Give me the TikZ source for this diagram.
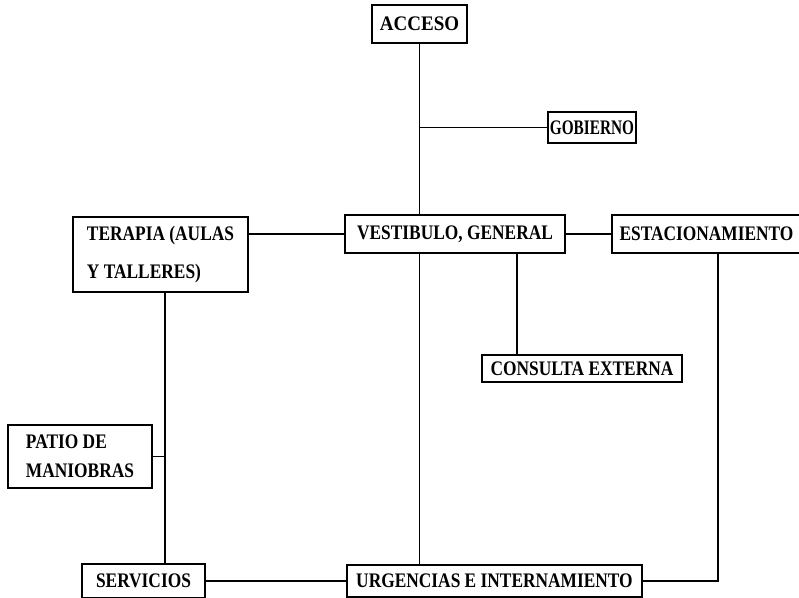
\documentclass[tikz,border=0pt]{standalone}
\usepackage{fontspec}
\setmainfont{Liberation Serif}[FakeStretch=0.84]
\newfontfamily\narrowserif{Liberation Serif}[FakeStretch=0.74]
\newfontfamily\wideserif{Liberation Serif}[FakeStretch=0.92]
\begin{document}
\begin{tikzpicture}[x=0.75pt,y=-0.75pt,
  box/.style={draw=black,line width=2pt,rectangle,inner sep=1.5pt,
    font=\fontsize{15.5}{18}\selectfont\bfseries,align=left},
  conn/.style={draw=black,line width=1pt}]
\useasboundingbox[fill=white] (0,0) rectangle (799,598);
\node[box,minimum width=71.25pt,minimum height=28.5pt] (acceso) at (419.5,24) {\wideserif\bfseries ACCESO};
\node[box,minimum width=66pt,minimum height=23.25pt] (gobierno) at (592,127.5) {\narrowserif\bfseries GOBIERNO};
\node[box,minimum width=131.25pt,minimum height=56.25pt] (terapia) at (160.5,254.5) {TERAPIA (AULAS\\[11pt]Y TALLERES)};
\node[box,minimum width=165pt,minimum height=28.5pt] (vestibulo) at (455,234) {VESTIBULO, GENERAL};
\node[box,minimum width=141.75pt,minimum height=28.5pt] (estac) at (706.5,234) {ESTACIONAMIENTO};
\node[box,minimum width=150pt,minimum height=20.25pt] (consulta) at (582,368.5) {CONSULTA EXTERNA};
\node[box,minimum width=108pt,minimum height=47.25pt] (patio) at (80,456.5) {PATIO DE\\[4pt]MANIOBRAS};
\node[box,minimum width=92.25pt,minimum height=25.5pt] (servicios) at (143.5,581) {SERVICIOS};
\node[box,minimum width=221.25pt,minimum height=24pt] (urgencias) at (494.5,581) {URGENCIAS E INTERNAMIENTO};
\coordinate (tb) at ([xshift=3.4pt]terapia.south);
\coordinate (vb) at ([xshift=46.5pt]vestibulo.south);
\coordinate (eb) at ([xshift=8.6pt]estac.south);
\draw[conn] (acceso.south) -- (acceso.south |- vestibulo.north);
\draw[conn] (acceso.south |- gobierno.west) -- (gobierno.west);
\draw[conn] (vestibulo.west -| terapia.east) -- (vestibulo.west);
\draw[conn] (vestibulo.east) -- (estac.west);
\draw[conn] (tb) -- (tb |- servicios.north);
\draw[conn] (patio.east) -- (patio.east -| tb);
\draw[conn] (servicios.east) -- (urgencias.west);
\draw[conn] (acceso.south |- vestibulo.south) -- (acceso.south |- urgencias.north);
\draw[conn] (vb) -- (vb |- consulta.north);
\draw[conn] (eb) |- (urgencias.east);
\end{tikzpicture}
\end{document}
